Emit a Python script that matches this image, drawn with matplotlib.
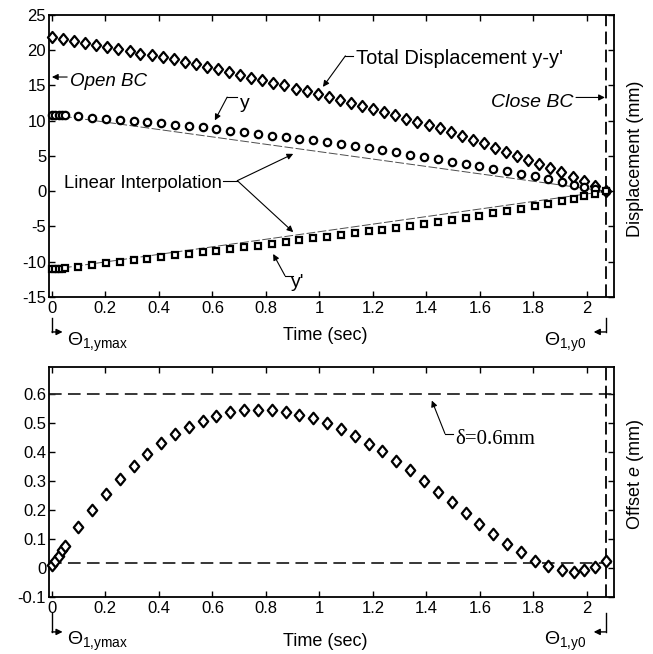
import matplotlib
matplotlib.use("Agg")
import matplotlib.pyplot as plt
from matplotlib.path import Path
import numpy as np

plt.rcParams['font.family'] = ['Liberation Sans', 'DejaVu Sans']
plt.rcParams['axes.unicode_minus'] = False
plt.rcParams['mathtext.fontset'] = 'custom'
plt.rcParams['mathtext.rm'] = 'Liberation Sans'
plt.rcParams['mathtext.it'] = 'Liberation Sans:italic'

# total displacement y-y' (diamonds, top panel)
t_tot = [0.000, 0.041, 0.083, 0.124, 0.166, 0.207, 0.248, 0.290, 0.331, 0.373,
         0.414, 0.455, 0.497, 0.538, 0.580, 0.621, 0.662, 0.704, 0.745, 0.787,
         0.828, 0.869, 0.911, 0.952, 0.994, 1.035, 1.076, 1.118, 1.159, 1.201,
         1.242, 1.283, 1.325, 1.366, 1.408, 1.449, 1.490, 1.532, 1.573, 1.615,
         1.656, 1.697, 1.739, 1.780, 1.822, 1.863, 1.904, 1.946, 1.987, 2.029, 2.070]
y_tot = [21.9, 21.6, 21.3, 21.0, 20.7, 20.5, 20.2, 19.9, 19.5, 19.3,
         19.0, 18.7, 18.3, 18.1, 17.6, 17.3, 16.9, 16.5, 16.1, 15.8,
         15.4, 15.0, 14.5, 14.2, 13.8, 13.3, 12.9, 12.5, 12.1, 11.7,
         11.2, 10.75, 10.3, 9.8, 9.4, 8.9, 8.4, 7.9, 7.3, 6.8,
         6.2, 5.6, 5.0, 4.5, 3.9, 3.3, 2.7, 2.0, 1.4, 0.8, 0.1]

# y, y' and offset e share the same time samples
t_s = [0.0, 0.0125, 0.025, 0.0375, 0.05, 0.098, 0.150, 0.201, 0.253, 0.305,
       0.357, 0.408, 0.460, 0.512, 0.563, 0.615, 0.667, 0.718, 0.770, 0.822,
       0.874, 0.925, 0.977, 1.029, 1.080, 1.132, 1.184, 1.235, 1.287, 1.339,
       1.391, 1.442, 1.494, 1.546, 1.597, 1.649, 1.701, 1.753, 1.804, 1.856,
       1.908, 1.950, 1.990, 2.030, 2.070]
y_up = [10.85, 10.84, 10.83, 10.81, 10.8, 10.6, 10.45, 10.3, 10.15, 10.0,
        9.8, 9.65, 9.45, 9.25, 9.05, 8.85, 8.6, 8.4, 8.15, 7.9,
        7.7, 7.45, 7.2, 6.95, 6.65, 6.4, 6.1, 5.85, 5.55, 5.2,
        4.9, 4.55, 4.2, 3.9, 3.55, 3.2, 2.85, 2.5, 2.1, 1.7,
        1.3, 0.95, 0.65, 0.35, 0.0]
y_lo = [-11.1, -11.1, -11.05, -11.0, -10.95, -10.7, -10.45, -10.2, -10.0, -9.75,
        -9.55, -9.35, -9.1, -8.9, -8.65, -8.45, -8.2, -7.95, -7.7, -7.45,
        -7.2, -6.95, -6.7, -6.45, -6.2, -5.95, -5.7, -5.45, -5.2, -4.95,
        -4.65, -4.35, -4.05, -3.75, -3.45, -3.1, -2.75, -2.45, -2.15, -1.75,
        -1.35, -1.05, -0.7, -0.35, 0.0]
offset_e = [0.008, 0.025, 0.042, 0.060, 0.075, 0.14, 0.20, 0.256, 0.308, 0.352,
            0.394, 0.431, 0.461, 0.487, 0.507, 0.526, 0.538, 0.544, 0.547, 0.547,
            0.538, 0.529, 0.516, 0.50, 0.479, 0.454, 0.429, 0.402, 0.369, 0.337,
            0.30, 0.262, 0.227, 0.19, 0.152, 0.118, 0.083, 0.054, 0.025, 0.007,
            -0.009, -0.013, -0.009, 0.002, 0.022]

t_close = 2.07
delta = 0.6
e_floor = 0.015

xticks = [0, 0.2, 0.4, 0.6, 0.8, 1, 1.2, 1.4, 1.6, 1.8, 2]
xlim = (-0.011, 2.102)

diamond = Path([(0, 1), (0.82, 0), (0, -1), (-0.82, 0), (0, 1)],
               [Path.MOVETO, Path.LINETO, Path.LINETO, Path.LINETO, Path.CLOSEPOLY])
mk = dict(ls='none', mfc='white', mec='black', mew=1.6, clip_on=False, zorder=5)

fig = plt.figure(figsize=(6.53, 6.54), dpi=100)
ax1 = fig.add_axes([0.0750, 0.5459, 0.8657, 0.4312])
ax2 = fig.add_axes([0.0750, 0.0876, 0.8657, 0.3517])


def style(ax):
    ax.set_xlim(*xlim)
    ax.set_xticks(xticks)
    ax.set_xticklabels(['%g' % v for v in xticks])
    ax.tick_params(direction='in', top=True, right=True, length=4, width=1,
                   labelsize=12, pad=3)
    ax.tick_params(axis='y', pad=2)
    for s in ax.spines.values():
        s.set_linewidth(1.3)


def leader(ax, pts):
    xs = [p[0] for p in pts]
    ys = [p[1] for p in pts]
    ax.plot(xs[:-1], ys[:-1], color='k', lw=0.8, clip_on=False)
    ax.annotate('', xy=pts[-1], xytext=pts[-2],
                arrowprops=dict(arrowstyle='-|>', color='k', lw=0.8,
                                mutation_scale=9, shrinkA=0, shrinkB=0))


def theta_marks(ax, y_top, y_bot, y_txt):
    tr = ax.get_xaxis_transform()
    ax.plot([0, 0], [y_top, y_bot], color='k', lw=1.0, transform=tr, clip_on=False)
    ax.annotate('', xy=(0.04, y_bot), xytext=(0, y_bot), xycoords=tr, textcoords=tr,
                arrowprops=dict(arrowstyle='-|>', color='k', lw=1.0,
                                mutation_scale=9, shrinkA=0, shrinkB=0))
    ax.text(0.056, y_txt, r'$\Theta_{1{,}\mathrm{ymax}}$', transform=tr,
            fontsize=14, ha='left', va='center')
    ax.plot([t_close, t_close], [y_top, y_bot], color='k', lw=1.0, transform=tr,
            clip_on=False)
    ax.annotate('', xy=(t_close - 0.045, y_bot), xytext=(t_close, y_bot),
                xycoords=tr, textcoords=tr,
                arrowprops=dict(arrowstyle='-|>', color='k', lw=1.0,
                                mutation_scale=9, shrinkA=0, shrinkB=0))
    ax.text(2.0, y_txt, r'$\Theta_{1{,}\mathrm{y0}}$', transform=tr,
            fontsize=14, ha='right', va='center')


# ---- top panel: displacements
style(ax1)
ax1.set_ylim(-15, 25)
ax1.set_yticks(np.arange(-15, 26, 5))
ax1.plot([t_s[0], t_s[-1]], [y_up[0], y_up[-1]], color='0.3', lw=0.7, ls=(0, (9, 2.5)))
ax1.plot([t_s[0], t_s[-1]], [y_lo[0], y_lo[-1]], color='0.3', lw=0.7, ls=(0, (9, 2.5)))
ax1.plot(t_tot, y_tot, marker=diamond, ms=8, **mk)
ax1.plot(t_s, y_up, marker='o', ms=5.3, **mk)
ax1.plot(t_s, y_lo, marker='s', ms=4.7, **mk)
ax1.axvline(t_close, color='k', lw=1.3, ls=(0, (7, 3)))

ax1.text(0.067, 15.6, 'Open BC', fontsize=13.5, style='italic', ha='left', va='center')
leader(ax1, [(0.057, 16.2), (0.0, 16.2)])
ax1.text(1.949, 12.6, 'Close BC', fontsize=14, style='italic', ha='right', va='center')
leader(ax1, [(1.959, 13.3), (2.067, 13.3)])
ax1.text(1.136, 18.8, "Total Displacement y-y'", fontsize=14.5, ha='left', va='center')
leader(ax1, [(1.127, 19.2), (1.097, 19.2), (1.013, 14.8)])
ax1.text(0.703, 12.4, 'y', fontsize=14, ha='left', va='center')
leader(ax1, [(0.69, 13.35), (0.655, 13.35), (0.609, 10.05)])
ax1.text(0.895, -12.9, "y'", fontsize=14, ha='left', va='center')
leader(ax1, [(0.9, -11.97), (0.871, -11.97), (0.827, -8.9)])
ax1.text(0.34, 1.14, 'Linear Interpolation', fontsize=13.3, ha='center', va='center')
ax1.plot([0.638, 0.693], [1.5, 1.5], color='k', lw=0.8)
leader(ax1, [(0.693, 1.5), (0.902, 5.3)])
leader(ax1, [(0.693, 1.5), (0.902, -5.8)])

ax1.text(0.488, -0.135, 'Time (sec)', transform=ax1.transAxes, fontsize=13,
         ha='center', va='center')
ax1.text(1.037, 0.489, 'Displacement (mm)', transform=ax1.transAxes, fontsize=13,
         rotation=90, ha='center', va='center')
theta_marks(ax1, -0.074, -0.124, -0.16)

# ---- bottom panel: offset e
style(ax2)
ax2.set_ylim(-0.1, 0.695)
yt = [-0.1, 0, 0.1, 0.2, 0.3, 0.4, 0.5, 0.6]
ax2.set_yticks(yt)
ax2.set_yticklabels(['%g' % v for v in yt])
ax2.axhline(delta, color='0.15', lw=1.3, ls=(0, (7, 3.5)))
ax2.axhline(e_floor, color='0.15', lw=1.3, ls=(0, (7, 3.5)))
ax2.axvline(t_close, color='k', lw=1.3, ls=(0, (7, 3)))
ax2.plot(t_s, offset_e, marker=diamond, ms=8.3, **mk)

ax2.text(1.506, 0.443, 'δ=0.6mm', fontsize=15, family=['Liberation Serif', 'DejaVu Serif'],
         ha='left', va='center')
leader(ax2, [(1.5, 0.464), (1.469, 0.464), (1.42, 0.578)])

ax2.text(0.488, -0.196, 'Time (sec)', transform=ax2.transAxes, fontsize=13,
         ha='center', va='center')
ax2.text(1.037, 0.533, 'Offset $e$ (mm)', transform=ax2.transAxes, fontsize=13,
         rotation=90, ha='center', va='center')
theta_marks(ax2, -0.07, -0.153, -0.193)

fig.savefig('out.png', dpi=100)
